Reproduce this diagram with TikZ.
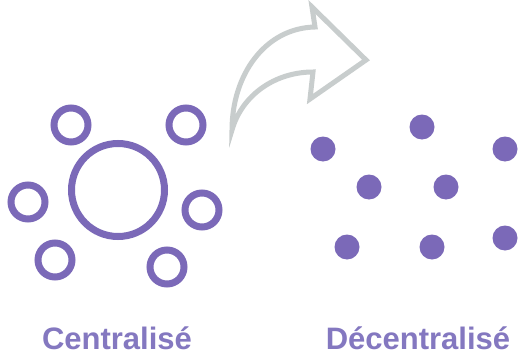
\documentclass[tikz,border=0pt]{standalone}
\usepackage{fontspec}
\setmainfont{Liberation Sans}
\usetikzlibrary{positioning}
\definecolor{hubpurple}{HTML}{7B69B8}
\definecolor{captionpurple}{HTML}{8478C0}
\definecolor{arrowgray}{HTML}{C8CDCD}
\tikzset{
    hub/.style={circle, draw=hubpurple, line width=7pt, minimum size=93pt, inner sep=0pt},
    ring/.style={circle, draw=hubpurple, line width=7pt, minimum size=34pt, inner sep=0pt},
    dot/.style={circle, fill=hubpurple, minimum size=25pt, inner sep=0pt},
    caption/.style={font=\fontsize{31}{36}\selectfont\bfseries, text=captionpurple, anchor=base},
    bigarrow/.style={draw=arrowgray, line width=5pt, line join=miter}
}

\begin{document}
\begin{tikzpicture}[x=1pt, y=-1pt]
            \useasboundingbox[fill=white] (0,0) rectangle (520,356);

            % centralised
            \node[hub] (hub) at (118,190) {};
            \node[ring] (ringnw) at (71,125) {};
            \node[ring] (ringne) at (186,125) {};
            \node[ring] (ringw) at (28,202) {};
            \node[ring] (ringe) at (202,210) {};
            \node[ring] (ringsw) at (55,260) {};
            \node[ring] (ringse) at (167,267) {};

            % decentralised
            \node[dot] (dota) at (422,127) {};
            \node[dot] (dotb) at (323,149) {};
            \node[dot] (dotc) at (505,149) {};
            \node[dot] (dotd) at (369,187) {};
            \node[dot] (dote) at (446,187) {};
            \node[dot] (dotf) at (347,247) {};
            \node[dot] (dotg) at (432,247) {};
            \node[dot] (doth) at (505,238) {};

            % arrow
            \draw[bigarrow] (366,60) -- (312,7) -- (315,27)
                .. controls (265,28) and (232,75) .. (232,130)
                .. controls (242,95) and (275,72) .. (313,72)
                -- (310,99) -- cycle;

            \node[caption] (central) at (117,349) {Centralisé};
            \node[caption] (decentral) at (418,349) {Décentralisé};
        \end{tikzpicture}
\end{document}
